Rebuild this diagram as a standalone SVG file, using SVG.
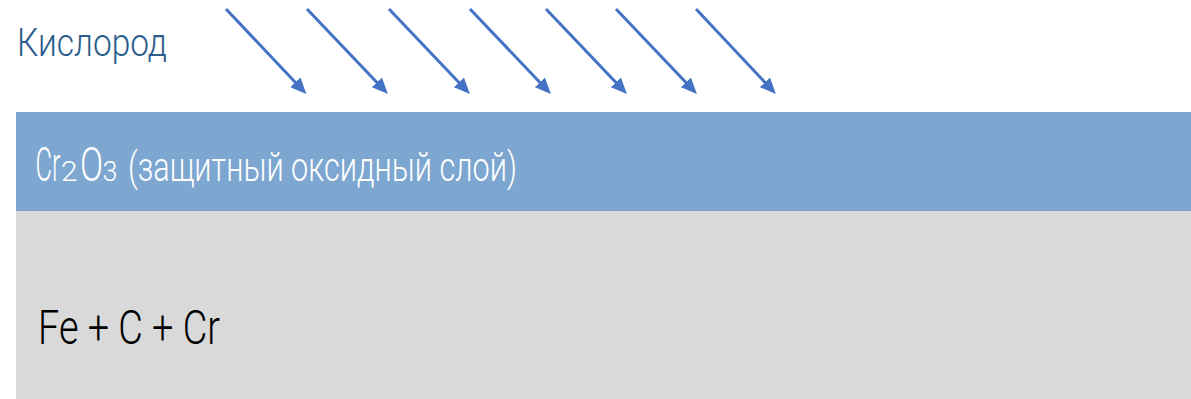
<svg xmlns="http://www.w3.org/2000/svg" width="1191" height="399" viewBox="0 0 1191 399">
  <style>
    .t { font-family: "Roboto", "Liberation Sans", sans-serif; }
    .w { fill: #FFFFFF; font-weight: 300; }
    .arrow { stroke: #4472C4; stroke-width: 3; fill: none; marker-end: url(#ah); }
  </style>
  <defs>
    <marker id="ah" markerUnits="userSpaceOnUse" viewBox="0 0 16 14" markerWidth="16" markerHeight="14" refX="6" refY="7" orient="auto">
      <path d="M0,0 L16,7 L0,14 z" fill="#4472C4"/>
    </marker>
  </defs>
  <rect width="1191" height="399" fill="#FFFFFF"/>

  <g id="metal-base">
    <rect x="16" y="211" width="1175" height="188" fill="#D9D9D9"/>
    <text class="t" x="38" y="344" font-size="48" font-weight="300" fill="#000000" textLength="182" lengthAdjust="spacingAndGlyphs">Fe + C + Cr</text>
  </g>

  <g id="oxide-layer">
    <rect x="16" y="112" width="1175" height="99" fill="#7DA7D0"/>
    <text class="t w" font-size="48" transform="translate(35.5,180.7) scale(0.53,1)">Cr</text>
    <text class="t w" font-size="27" transform="translate(61,180.7) scale(1.1,1)">2</text>
    <text class="t w" font-size="48" transform="translate(80,180.7) scale(0.71,1)">O</text>
    <text class="t w" font-size="27" transform="translate(102.6,180.7) scale(1.0,1)">3</text>
    <text class="t w" x="128" y="180.7" font-size="41" textLength="389" lengthAdjust="spacingAndGlyphs">(защитный оксидный слой)</text>
  </g>

  <g id="oxygen-label">
    <text class="t" x="17" y="56" font-size="39" font-weight="300" fill="#2B5D8C" textLength="150" lengthAdjust="spacingAndGlyphs">Кислород</text>
  </g>

  <g id="arrows">
    <line class="arrow" x1="226" y1="9" x2="299.5" y2="86.7"/>
    <line class="arrow" x1="307" y1="9" x2="381" y2="86.7"/>
    <line class="arrow" x1="389" y1="9" x2="463" y2="86.7"/>
    <line class="arrow" x1="470" y1="9" x2="544" y2="86.7"/>
    <line class="arrow" x1="546" y1="9" x2="620" y2="86.7"/>
    <line class="arrow" x1="616" y1="9" x2="690" y2="86.7"/>
    <line class="arrow" x1="696" y1="9" x2="769" y2="86.7"/>
  </g>
</svg>
